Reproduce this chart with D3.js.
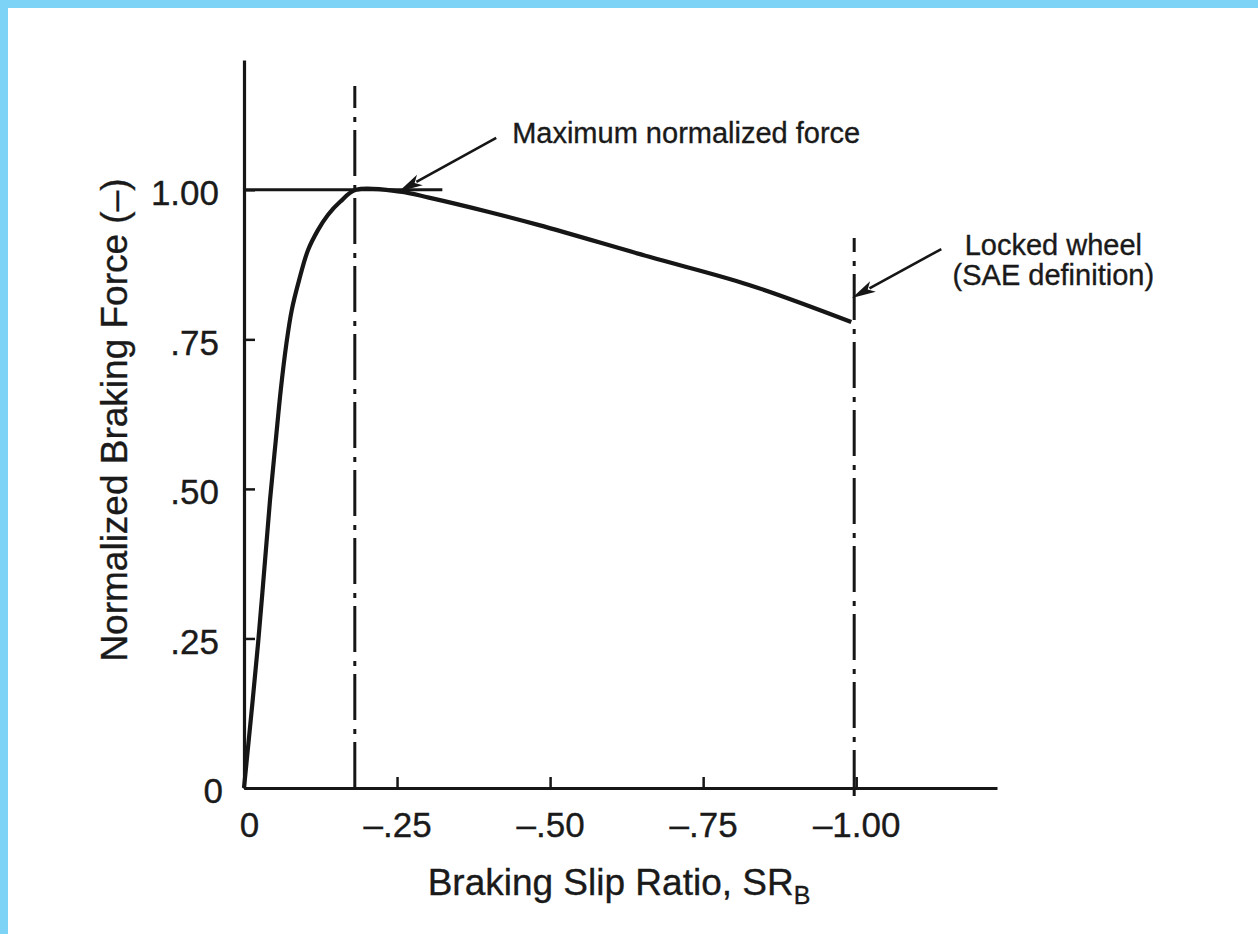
<!DOCTYPE html>
<html>
<head>
<meta charset="utf-8">
<script src="https://cdn.jsdelivr.net/npm/d3@7"></script>
<style>
  html, body { margin: 0; padding: 0; background: #ffffff; }
  svg { display: block; }
  text { font-family: "Liberation Sans", Arial, Helvetica, sans-serif; fill: #1a1a1a; stroke: #1a1a1a; stroke-width: 0.35px; }
</style>
</head>
<body>
<script>
// ---- data ----
const slip  = [0, -0.023, -0.0425, -0.052, -0.060, -0.069, -0.078, -0.090, -0.1045, -0.121, -0.137, -0.157, -0.183, -0.255, -0.302, -0.40, -0.482, -0.662, -0.825, -0.992];
const force = [0, 0.242, 0.4815, 0.582, 0.665, 0.741, 0.799, 0.849, 0.899, 0.933, 0.958, 0.980, 1.000, 0.997, 0.987, 0.963, 0.941, 0.888, 0.841, 0.779];

const xTicks = [0, -0.25, -0.50, -0.75, -1.00];
const xTickLabels = ["0", "\u2013.25", "\u2013.50", "\u2013.75", "\u20131.00"];
const yTicks = [0, 0.25, 0.50, 0.75, 1.00];
const yTickLabels = ["0", ".25", ".50", ".75", "1.00"];

const maxForceLine = { from: 0, to: -0.324, value: 1.0 };
const peakSlip = -0.181;
const lockedSlip = -1.0;

const annotations = [
  { lines: ["Maximum normalized force"], tip: [-0.253, 0.997], tail: [-0.412, 1.087], text: [-0.438, 1.078], anchor: "start" },
  { lines: ["Locked wheel", "(SAE definition)"], tip: [-0.993, 0.819], tail: [-1.139, 0.901], text: [-1.322, 0.891], anchor: "middle" }
];

// ---- layout ----
const W = 1258, H = 934;
const svg = d3.select("body").append("svg").attr("width", W).attr("height", H);

// blue frame (top and left)
svg.append("rect").attr("x", 0).attr("y", 0).attr("width", W).attr("height", 8).attr("fill", "#7dd3f6");
svg.append("rect").attr("x", 0).attr("y", 0).attr("width", 8).attr("height", H).attr("fill", "#7dd3f6");

const x = d3.scaleLinear().domain([0, -1.23]).range([244, 997]);
const y = d3.scaleLinear().domain([0, 1.217]).range([788, 60]);

const ink = "#161616";

// axes
const xAxis = d3.axisBottom(x).tickValues(xTicks).tickFormat((d, i) => xTickLabels[i])
  .tickSizeInner(-11).tickSizeOuter(0).tickPadding(24);
const yAxis = d3.axisLeft(y).tickValues(yTicks).tickFormat((d, i) => yTickLabels[i])
  .tickSizeInner(-11).tickSizeOuter(0).tickPadding(25);

const gx = svg.append("g").attr("transform", `translate(0,${y(0)})`).call(xAxis);
const gy = svg.append("g").attr("transform", `translate(${x(0)},0)`).call(yAxis);

[gx, gy].forEach(g => {
  g.select(".domain").attr("stroke", ink).attr("stroke-width", 3.2);
  g.selectAll(".tick line").attr("stroke", ink).attr("stroke-width", 2.5);
  g.selectAll(".tick text").attr("fill", ink).attr("font-size", 35)
    .attr("font-family", "'Liberation Sans', Arial, sans-serif");
});
gy.selectAll(".tick text").attr("dy", "0.42em");
gy.selectAll(".tick").filter(d => d === 0).select("text").attr("dx", 4);
gx.selectAll(".tick").filter(d => d === 0).select("text").attr("dx", 5);

// dash-dot vertical reference lines
svg.append("line")
  .attr("x1", x(peakSlip)).attr("x2", x(peakSlip))
  .attr("y1", y(0)).attr("y2", 86)
  .attr("stroke", ink).attr("stroke-width", 3)
  .attr("stroke-dasharray", "46 8 5 9");
svg.append("line")
  .attr("x1", x(lockedSlip) - 2).attr("x2", x(lockedSlip) - 2)
  .attr("y1", y(0) + 8).attr("y2", 238)
  .attr("stroke", ink).attr("stroke-width", 3)
  .attr("stroke-dasharray", "46 8 5 9");

// horizontal line at maximum normalized force
svg.append("line")
  .attr("x1", x(maxForceLine.from)).attr("x2", x(maxForceLine.to))
  .attr("y1", y(maxForceLine.value)).attr("y2", y(maxForceLine.value))
  .attr("stroke", ink).attr("stroke-width", 3);

// curve
const pts = slip.map((s, i) => [s, force[i]]);
svg.append("path")
  .datum(pts)
  .attr("fill", "none")
  .attr("stroke", ink)
  .attr("stroke-width", 4.2)
  .attr("stroke-linejoin", "round")
  .attr("d", d3.line().x(d => x(d[0])).y(d => y(d[1])).curve(d3.curveCatmullRom.alpha(0.5)));

// annotations with arrows
annotations.forEach(a => {
  const tx = x(a.tip[0]), ty = y(a.tip[1]);
  const sx = x(a.tail[0]), sy = y(a.tail[1]);
  const ang = Math.atan2(ty - sy, tx - sx);
  const L = 24, Wd = 6;
  const bx = tx - L * Math.cos(ang), by = ty - L * Math.sin(ang);
  svg.append("line").attr("x1", sx).attr("y1", sy).attr("x2", bx + 4 * Math.cos(ang)).attr("y2", by + 4 * Math.sin(ang))
    .attr("stroke", ink).attr("stroke-width", 2.6);
  const p1 = [bx + Wd * Math.sin(ang), by - Wd * Math.cos(ang)];
  const p2 = [bx - Wd * Math.sin(ang), by + Wd * Math.cos(ang)];
  svg.append("path")
    .attr("d", `M${tx},${ty}L${p1[0]},${p1[1]}L${bx + 6 * Math.cos(ang)},${by + 6 * Math.sin(ang)}L${p2[0]},${p2[1]}Z`)
    .attr("fill", ink);
  const t = svg.append("text")
    .attr("x", x(a.text[0])).attr("y", y(a.text[1]))
    .attr("text-anchor", a.anchor)
    .attr("font-size", 29);
  a.lines.forEach((ln, i) => {
    t.append("tspan").attr("x", x(a.text[0])).attr("dy", i === 0 ? 0 : 30).text(ln);
  });
});

// axis titles
const xt = svg.append("text")
  .attr("x", 619).attr("y", 895)
  .attr("text-anchor", "middle")
  .attr("font-size", 37)
  .attr("fill", ink);
xt.append("tspan").text("Braking Slip Ratio, SR");
xt.append("tspan").attr("font-size", 25).attr("dy", 9).text("B");

svg.append("text")
  .attr("transform", "translate(127,420) rotate(-90)")
  .attr("text-anchor", "middle")
  .attr("font-size", 37)
  .attr("fill", ink)
  .text("Normalized Braking Force (\u2013)");
</script>
</body>
</html>
